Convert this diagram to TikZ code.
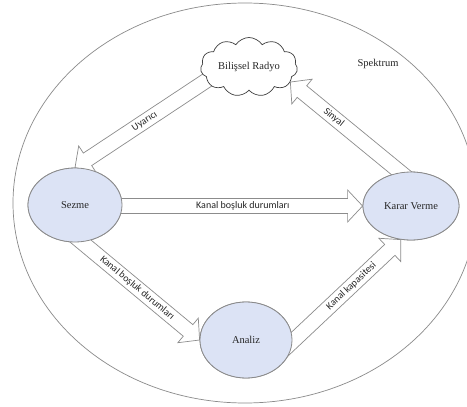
\documentclass[tikz,border=0pt]{standalone}
\usepackage{fontspec}
\setmainfont{Liberation Serif}
\newfontfamily\cfont{Carlito}
\usetikzlibrary{shapes.geometric,shapes.symbols,calc}
\definecolor{ellfill}{HTML}{DCE3F5}
\definecolor{ellline}{HTML}{8A8A8A}
\definecolor{arrline}{HTML}{8C8C8C}
\definecolor{txt}{HTML}{262626}
\tikzset{
  stateell/.style={ellipse, draw=ellline, line width=0.8pt, fill=ellfill, inner sep=0pt,
    font=\fontsize{10.5}{12}\selectfont, text=txt},
  barrow/.style={draw=arrline, line width=0.7pt, fill=white, line join=miter},
  alabel/.style={font=\cfont\fontsize{10}{12}\selectfont, text=txt, inner sep=0pt},
}
\newcommand\blockarrow[4]{%
  \draw[barrow] let \p1=(#1), \p2=(#2), \n1={atan2(\y2-\y1,\x2-\x1)} in
    ($(#1)+({\n1+90}:7.5pt)$) -- ($(#2)+({\n1+180}:15pt)+({\n1+90}:7.5pt)$)
    -- ($(#2)+({\n1+180}:15pt)+({\n1+90}:16pt)$) -- (#2)
    -- ($(#2)+({\n1+180}:15pt)+({\n1-90}:16pt)$) -- ($(#2)+({\n1+180}:15pt)+({\n1-90}:7.5pt)$)
    -- ($(#1)+({\n1-90}:7.5pt)$) -- cycle;
  \path let \p1=(#1), \p2=(#2), \n1={atan2(\y2-\y1,\x2-\x1)},
    \n2={ifthenelse(abs(\n1)>90,\n1+180,\n1)} in
    node[alabel, rotate=\n2] at ($(#1)!#4!(#2)$) {#3};
}
\begin{document}
\begin{tikzpicture}[x=1pt,y=-1pt]
\clip (0,0) rectangle (467,407);
\fill[white] (0,0) rectangle (467,407);
% outer spectrum ellipse
\node[ellipse, draw=ellline, line width=0.7pt, minimum width=464pt, minimum height=400pt, inner sep=0pt] (spek) at (245,203) {};
\node[font=\fontsize{10.5}{12}\selectfont, text=txt] (spektxt) at (378,64) {Spektrum};
% nodes (positions)
\node[stateell, minimum width=94pt, minimum height=74pt] (sez) at (75,205) {};
\node[stateell, minimum width=96pt, minimum height=68pt] (kv) at (411,206) {};
\node[stateell, minimum width=92pt, minimum height=76pt] (an) at (246,340) {};
\coordinate (t1) at (230,65);
\coordinate (t2) at (422,190);
\coordinate (t3) at (100,206);
\coordinate (t4) at (60,224);
\coordinate (t5) at (275,358);
% arrow under cloud
\blockarrow{t1}{sez.north}{Uyarıcı}{0.55}
\node[cloud, cloud puffs=11, cloud puff arc=115, cloud ignores aspect, draw=black!75, line width=0.7pt, fill=white,
  minimum width=97pt, minimum height=59pt, inner sep=0pt, font=\fontsize{10.5}{12}\selectfont, text=txt] (radyo) at (249,67) {Bilişsel Radyo};
\blockarrow{t2}{radyo.-20}{Sinyal}{0.67}
\blockarrow{t3}{kv.west}{Kanal boşluk durumları}{0.544}
\blockarrow{t4}{an.west}{Kanal boşluk durumları}{0.553}
\blockarrow{t5}{kv.253}{Kanal kapasitesi}{0.607}
% redraw ellipses on top
\node[stateell, minimum width=94pt, minimum height=74pt] (sez2) at (sez) {Sezme};
\node[stateell, minimum width=96pt, minimum height=68pt] (kv2) at (kv) {Karar Verme};
\node[stateell, minimum width=92pt, minimum height=76pt] (an2) at (an) {Analiz};
\end{tikzpicture}
\end{document}
